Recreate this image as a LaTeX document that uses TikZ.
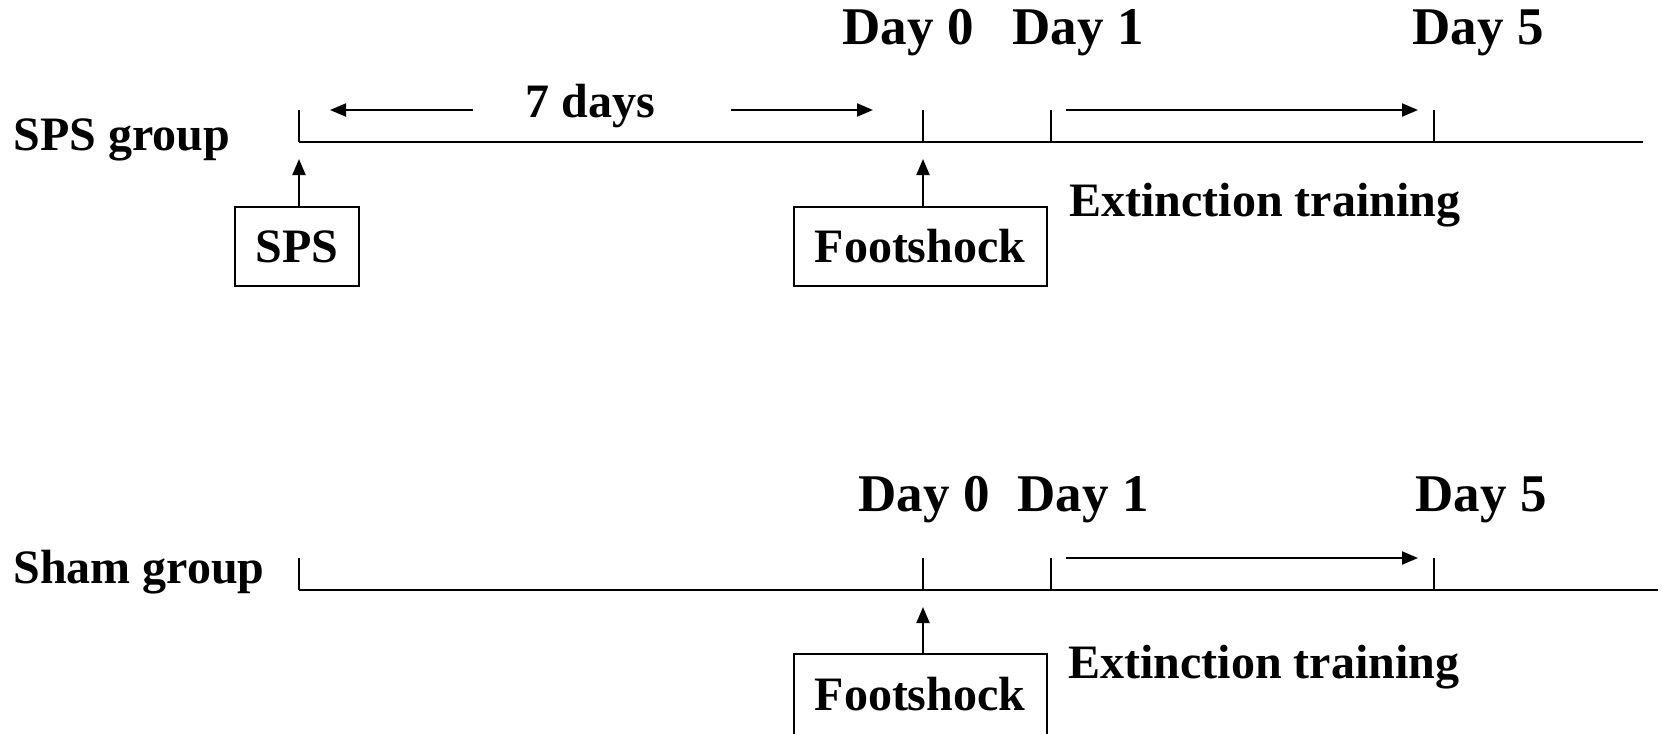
\documentclass[tikz,border=0pt]{standalone}
\usepackage{fontspec}
\setmainfont{Liberation Serif}
\usepackage{tikz}
\usetikzlibrary{arrows.meta, positioning}

\begin{document}
\begin{tikzpicture}[
    x=0.5pt, y=-0.5pt,
    txt/.style={font=\fontsize{24}{28}\selectfont\bfseries, inner sep=0pt},
    daytxt/.style={font=\fontsize{26.5}{30}\selectfont\bfseries, inner sep=0pt},
    event/.style={rectangle, draw=black, line width=1pt, fill=white, font=\fontsize{24}{28}\selectfont\bfseries, inner sep=0pt, minimum height=39.5pt},
    timeline/.style={line width=1.2pt},
    daytick/.style={line width=0.7pt},
    marker/.style={-{Triangle[length=8pt, width=6.5pt]}, line width=1pt}
]
    \useasboundingbox (0,0) rectangle (1663,733);
    \clip (0,0) rectangle (1663,733);

    % --- SPS GROUP (top row) ---
    \coordinate (s_start) at (299,142);
    \coordinate (s_end) at (1643,142);
    \coordinate (s_d0) at (923,142);
    \coordinate (s_d1) at (1051,142);
    \coordinate (s_d5) at (1434,142);
    \coordinate (s_start_top) at (299,110);
    \coordinate (s_d0_top) at (923,110);
    \coordinate (s_d1_top) at (1051,110);
    \coordinate (s_d5_top) at (1434,110);

    \node[txt, anchor=base west] (sps_group) at (13,150) {SPS group};
    \node[daytxt, anchor=base] (s_day0) at (908,45) {Day 0};
    \node[daytxt, anchor=base] (s_day1) at (1078,45) {Day 1};
    \node[daytxt, anchor=base] (s_day5) at (1478,45) {Day 5};
    \node[txt, anchor=base] (days7) at (590,118) {7 days};
    \node[txt, anchor=base west] (s_ext) at (1069,216) {Extinction training};

    \node[event, minimum width=62pt] (sps) at (297,246.5) {SPS};
    \node[event, minimum width=126.5pt] (s_shock) at (920,246.5) {Footshock};

    \draw[timeline] (s_start) -- (s_end);
    \foreach \t in {s_start, s_d0, s_d1, s_d5}
        \draw[daytick] (\t) -- (\t_top);

    \draw[marker, shorten >=15.5pt] (days7.west |- s_start_top) ++(-26pt,0) -- (s_start_top);
    \draw[marker, shorten >=25pt] (days7.east |- s_d0_top) ++(38pt,0) -- (s_d0_top);
    \draw[marker, shorten <=7.5pt, shorten >=8pt] (s_d1_top) -- (s_d5_top);

    \draw[marker, shorten >=8.5pt] (sps.north -| s_start) -- (s_start);
    \draw[marker, shorten >=8.5pt] (s_shock.north -| s_d0) -- (s_d0);

    % --- SHAM GROUP (bottom row) ---
    \coordinate (h_start) at (299,590);
    \coordinate (h_end) at (1658,590);
    \coordinate (h_d0) at (923,590);
    \coordinate (h_d1) at (1051,590);
    \coordinate (h_d5) at (1434,590);
    \coordinate (h_start_top) at (299,558);
    \coordinate (h_d0_top) at (923,558);
    \coordinate (h_d1_top) at (1051,558);
    \coordinate (h_d5_top) at (1434,558);

    \node[txt, anchor=base west] (sham_group) at (13,583) {Sham group};
    \node[daytxt, anchor=base] (h_day0) at (924,511) {Day 0};
    \node[daytxt, anchor=base] (h_day1) at (1083,511) {Day 1};
    \node[daytxt, anchor=base] (h_day5) at (1481,511) {Day 5};
    \node[txt, anchor=base west] (h_ext) at (1068,678) {Extinction training};

    \node[event, minimum width=126.5pt, minimum height=40.5pt] (h_shock) at (920,694.5) {Footshock};

    \draw[timeline] (h_start) -- (h_end);
    \foreach \t in {h_start, h_d0, h_d1, h_d5}
        \draw[daytick] (\t) -- (\t_top);

    \draw[marker, shorten <=7.5pt, shorten >=8pt] (h_d1_top) -- (h_d5_top);
    \draw[marker, shorten >=8.5pt] (h_shock.north -| h_d0) -- (h_d0);

\end{tikzpicture}
\end{document}
